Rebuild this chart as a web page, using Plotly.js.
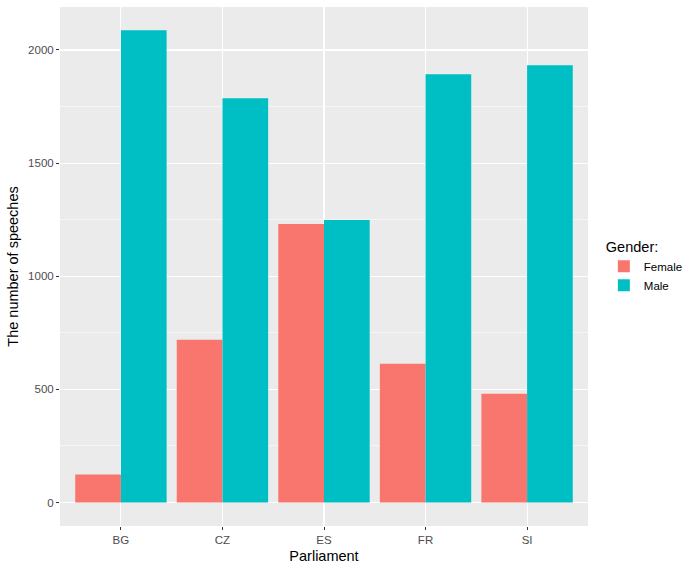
<!DOCTYPE html>
<html>
<head>
<meta charset="utf-8">
<script src="https://cdn.plot.ly/plotly-3.0.1.min.js"></script>
<style>
  html, body { margin: 0; padding: 0; background: #fff; }
  #chart { width: 695px; height: 572px; }
</style>
</head>
<body>
<div id="chart"></div>
<script>
var parliaments = ['BG', 'CZ', 'ES', 'FR', 'SI'];
var female = [124, 719, 1231, 613, 481];
var male = [2087, 1787, 1249, 1893, 1933];

var font = 'Liberation Sans, Arial, sans-serif';

var traces = [
  {
    x: parliaments, y: female, name: 'Female', type: 'bar',
    marker: {color: '#F8766D'}, hoverinfo: 'y'
  },
  {
    x: parliaments, y: male, name: 'Male', type: 'bar',
    marker: {color: '#00BFC4'}, hoverinfo: 'y'
  }
];

var layout = {
  width: 695, height: 572,
  margin: {l: 60, r: 107, t: 7, b: 46},
  paper_bgcolor: '#FFFFFF',
  plot_bgcolor: '#EBEBEB',
  font: {family: font, size: 12, color: '#000000'},
  barmode: 'group',
  bargap: 0.1,
  bargroupgap: 0,
  xaxis: {
    range: [-0.6, 4.6],
    showgrid: true, gridcolor: '#FFFFFF', gridwidth: 1.1,
    ticks: 'outside', ticklen: 3, tickcolor: '#333333', tickwidth: 1,
    tickfont: {family: font, size: 11.5, color: '#4D4D4D'},
    zeroline: false, showline: false,
    title: {text: 'Parliament', font: {family: font, size: 14.5, color: '#000000'}, standoff: 6}
  },
  yaxis: {
    range: [-104, 2190],
    tickvals: [0, 500, 1000, 1500, 2000],
    showgrid: true, gridcolor: '#FFFFFF', gridwidth: 1.1,
    minor: {tickvals: [250, 750, 1250, 1750], showgrid: true, gridcolor: '#FFFFFF', gridwidth: 0.55, ticks: ''},
    ticks: 'outside', ticklen: 3, tickcolor: '#333333', tickwidth: 1,
    tickfont: {family: font, size: 11.5, color: '#4D4D4D'},
    zeroline: false, showline: false,
    title: {text: 'The number of speeches', font: {family: font, size: 14.5, color: '#000000'}, standoff: 6}
  },
  legend: {
    x: 1.03, xanchor: 'left', y: 0.5, yanchor: 'middle',
    title: {text: 'Gender:', font: {family: font, size: 14.5, color: '#000000'}},
    font: {family: font, size: 11.5, color: '#000000'},
    bgcolor: 'rgba(0,0,0,0)',
    itemwidth: 30,
    tracegroupgap: 4
  },
  showlegend: true
};

Plotly.newPlot('chart', traces, layout, {displayModeBar: false, staticPlot: true});
</script>
</body>
</html>
